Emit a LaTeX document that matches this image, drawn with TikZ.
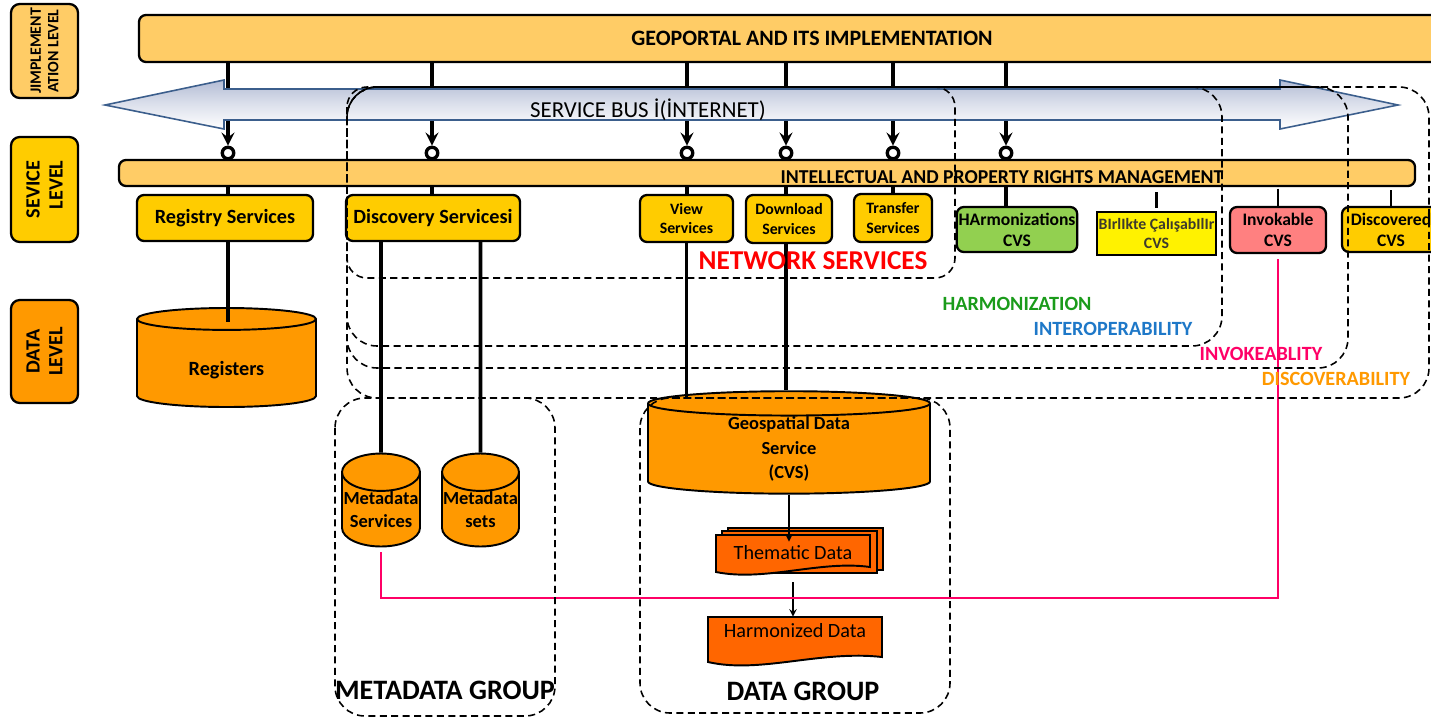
\documentclass[tikz,border=0pt]{standalone}
\usepackage{fontspec}
\setmainfont{Carlito}
\usetikzlibrary{shapes.geometric,arrows}

\definecolor{barcol}{HTML}{FFCC66}
\definecolor{svccol}{HTML}{FFCC00}
\definecolor{dbcol}{HTML}{FF9900}
\definecolor{doccol}{HTML}{FF6600}
\definecolor{harmcol}{HTML}{92D050}
\definecolor{invcol}{HTML}{FF8080}
\definecolor{pinkcol}{HTML}{FF0066}
\definecolor{busline}{HTML}{3B5E8C}
\definecolor{bustop}{HTML}{B3BCD5}
\definecolor{harmtxt}{HTML}{1A9B1A}
\definecolor{intertxt}{HTML}{1E78C8}

\begin{document}
\begin{tikzpicture}[x=0.2mm,y=-0.2mm,
    every node/.style={font=\bfseries\fontsize{11.5}{13}\selectfont},
    lvl/.style={draw,rounded corners=5pt,line width=1.3pt,rotate=90,align=center,inner sep=1pt},
    bar/.style={draw,rounded corners=4pt,line width=1.3pt,fill=barcol,inner sep=0pt},
    svc/.style={draw,rounded corners=4pt,line width=1.3pt,fill=svccol,align=center,inner sep=1pt},
    small/.style={font=\bfseries\fontsize{9}{11}\selectfont},
    ring/.style={circle,draw,line width=1.9pt,fill=white,inner sep=0pt,minimum size=2.3mm},
    conn/.style={line width=2.2pt},
    db/.style={cylinder,shape border rotate=90,draw,line width=1.1pt,fill=dbcol,align=center,inner sep=0pt},
    grp/.style={draw,line width=0.9pt,dash pattern=on 4pt off 2.5pt,rounded corners=6mm},
    doc/.style={draw,line width=1.1pt,fill=doccol},
    tag/.style={font=\bfseries\fontsize{16}{18}\selectfont},
    ]
    \useasboundingbox (0,0) rectangle (1431,718);

    % levels
    \node[lvl,fill=barcol,minimum width=18.8mm,minimum height=13.4mm,
        font=\bfseries\fontsize{9}{10}\selectfont] (impl) at (44.5,51) {JIMPLEMENT\\ATION LEVEL};
    \node[lvl,fill=svccol,minimum width=21mm,minimum height=13.4mm] (svclvl) at (44.5,189.5) {SEVICE\\\ \ LEVEL};
    \node[lvl,fill=dbcol,minimum width=20.6mm,minimum height=13.4mm] (datalvl) at (44.5,351.5) {DATA\\LEVEL};

    % bars
    \node[bar,font=\bfseries\fontsize{12.5}{14}\selectfont,minimum width=269.2mm,minimum height=9.4mm] (geo) at (812,38.5) {GEOPORTAL AND ITS IMPLEMENTATION};
    \node[bar,minimum width=259.2mm,minimum height=5.2mm] (ipr) at (767,173) {};
    \node[font=\bfseries\fontsize{11.2}{12}\selectfont] (iprtxt) at (1002,177) {INTELLECTUAL AND PROPERTY RIGHTS MANAGEMENT};

    % services
    \node[svc,minimum width=35.2mm,minimum height=9.2mm] (reg) at (225,218) {Registry Services};
    \node[svc,minimum width=34.8mm,minimum height=9.2mm] (disc) at (433,218) {Discovery Servicesi};
    \node[svc,small,minimum width=18.6mm,minimum height=9.4mm] (view) at (686.5,218.5) {View\\Services};
    \node[svc,small,minimum width=17.2mm,minimum height=9.6mm] (down) at (789,219) {Download\\Services};
    \node[svc,small,minimum width=15.6mm,minimum height=9.6mm] (trans) at (893,218) {Transfer\\Services};
    \node[svc,fill=harmcol,font=\bfseries\fontsize{10}{12}\selectfont,minimum width=22mm,minimum height=9mm] (harm) at (1017,229.5) {HArmonizations\\CVS};
    \node[svc,rounded corners=0pt,fill=yellow,text=black!75!olive,font=\bfseries\fontsize{9}{11}\selectfont,
        minimum width=23.8mm,minimum height=8.6mm] (birl) at (1156.5,233.5) {BIrlIkte ÇalışabIlIr\\CVS};
    \node[svc,fill=invcol,font=\bfseries\fontsize{10}{12}\selectfont,minimum width=19.2mm,minimum height=9.2mm] (invk) at (1278,230) {Invokable\\CVS};
    \node[svc,font=\bfseries\fontsize{10}{12}\selectfont,minimum width=19.6mm,minimum height=9mm] (discv) at (1391,229.5) {Discovered\\CVS};

    % rings
    \node[ring] (r1) at (228,153) {};
    \node[ring] (r2) at (432,153) {};
    \node[ring] (r3) at (687,153) {};
    \node[ring] (r4) at (786,153) {};
    \node[ring] (r5) at (893,153) {};
    \node[ring] (r6) at (1006,153) {};

    \draw[conn,-stealth] (geo.south -| r1) -- (r1.north);
    \draw[conn,-stealth] (geo.south -| r2) -- (r2.north);
    \draw[conn,-stealth] (geo.south -| r3) -- (r3.north);
    \draw[conn,-stealth] (geo.south -| r4) -- (r4.north);
    \draw[conn,-stealth] (geo.south -| r5) -- (r5.north);
    \draw[conn,-stealth] (geo.south -| r6) -- (r6.north);
    \draw[conn] (r1.south) -- (ipr.north -| r1);
    \draw[conn] (r2.south) -- (ipr.north -| r2);
    \draw[conn] (r3.south) -- (ipr.north -| r3);
    \draw[conn] (r4.south) -- (ipr.north -| r4);
    \draw[conn] (r5.south) -- (ipr.north -| r5);
    \draw[conn] (r6.south) -- (ipr.north -| r6);
    \draw[conn] (ipr.south -| r1) -- (reg.north -| r1);
    \draw[conn] (ipr.south -| r2) -- (disc.north -| r2);
    \draw[conn] (ipr.south -| r3) -- (view.north -| r3);
    \draw[conn] (ipr.south -| r4) -- (down.north -| r4);
    \draw[conn] (ipr.south -| r5) -- (trans.north -| r5);
    \draw[conn] (ipr.south -| r6) -- (harm.north -| r6);
    \draw[line width=1.4pt,shorten <=1mm,shorten >=0.5mm] (ipr.south -| birl) -- (birl.north);
    \draw[line width=1.4pt,shorten <=0.3mm] (ipr.south -| invk) -- (invk.north);
    \draw[line width=1.4pt,shorten <=0.6mm] (ipr.south -| discv) -- (discv.north);

    % service bus
    \shade[top color=bustop,bottom color=white,middle color=bustop!45!white,draw=busline,line width=0.9pt]
        (105,105) -- (224,80) -- (224,89) -- (1280,89) -- (1280,80) -- (1398,105)
        -- (1280,129) -- (1280,120) -- (224,120) -- (224,129) -- cycle;
    \node[font=\fontsize{13}{15}\selectfont] (bus) at (648,110) {SERVICE BUS İ(İNTERNET)};

    % data
    \node[db,anchor=shape center,aspect=0.29,minimum width=35.8mm,minimum height=19.8mm,
        text height=13.5pt,text depth=0pt] (regs) at (226.5,357.5) {Registers};
    \node[db,anchor=shape center,font=\bfseries\fontsize{10.5}{13}\selectfont,aspect=0.5,minimum width=15.6mm,minimum height=16mm] (mds) at (381,500) {Metadata\\Services};
    \node[db,anchor=shape center,font=\bfseries\fontsize{10.5}{13}\selectfont,aspect=0.5,minimum width=15.4mm,minimum height=16mm] (msets) at (480.5,500) {Metadata\\sets};
    \node[db,font=\bfseries\fontsize{10.5}{14}\selectfont,aspect=0.2,minimum width=56.4mm,minimum height=18.4mm] (geods) at (789,449) {Geospatial Data\\Service\\(CVS)};

    \draw[conn,shorten >=-3mm] (reg.south -| r1) -- (regs.north -| r1);
    \draw[conn] (disc.south -| mds) -- (mds.north);
    \draw[conn] (disc.south -| msets) -- (msets.north);
    \draw[conn,shorten >=-1.6mm] (view.south) -- (geods.north -| view);
    \draw[conn] (down.south -| r4) -- (geods.north -| r4);

    % documents
    \path[doc] (728,528) rectangle (883,570);
    \path[doc] (722,531) rectangle (877,573);
    \path[doc] (716,535) -- (870,535) -- (870,567) .. controls (820,560) and (765,582) .. (716,572) -- cycle;
    \node[font=\fontsize{11.5}{13}\selectfont,minimum width=30.8mm,text height=4.8mm,text depth=3.6mm,inner ysep=0pt] (them) at (793,556) {Thematic Data};
    \path[doc] (708,617) -- (882,617) -- (882,657) .. controls (820,650) and (760,674) .. (708,662) -- cycle;
    \node[font=\fontsize{11.5}{13}\selectfont,minimum width=34.8mm,text height=4mm,text depth=5.6mm,inner ysep=0pt] (harmd) at (795,641) {Harmonized Data};

    \draw[-stealth,line width=0.9pt,shorten >=-1.4mm] (geods.south) -- (geods.south |- them.north);
    \draw[-stealth,line width=0.9pt,shorten <=1mm] (them.south) -- (them.south |- harmd.north);

    % invoke link
    \coordinate (pk) at (0,598);
    \draw[pinkcol,line width=1.4pt] ([yshift=-1mm]mds.south) |- (pk -| invk) -- ([yshift=-1mm]invk.south);

    % groups
    \draw[grp,rounded corners=4mm] (347,87) rectangle (955,278);
    \draw[grp] (347,87) rectangle (1222,346);
    \draw[grp] (347,87) rectangle (1348,368);
    \draw[grp] (347,87) rectangle (1429,398);
    \draw[grp] (335,398) rectangle (555,716);
    \draw[grp] (640,398) rectangle (950,713);

    \node[tag,font=\bfseries\fontsize{15.5}{17}\selectfont,text=red] (netlbl) at (813,261) {NETWORK SERVICES};
    \node[text=harmtxt] (harmlbl) at (1017,304) {HARMONIZATION};
    \node[text=intertxt] (interlbl) at (1113,329) {INTEROPERABILITY};
    \node[text=pinkcol] (invlbl) at (1261,354) {INVOKEABLITY};
    \node[text=dbcol] (disclbl) at (1336,379) {DISCOVERABILITY};
    \node[tag] (metalbl) at (445,690) {METADATA GROUP};
    \node[tag] (datalbl) at (803,691) {DATA GROUP};
\end{tikzpicture}
\end{document}
